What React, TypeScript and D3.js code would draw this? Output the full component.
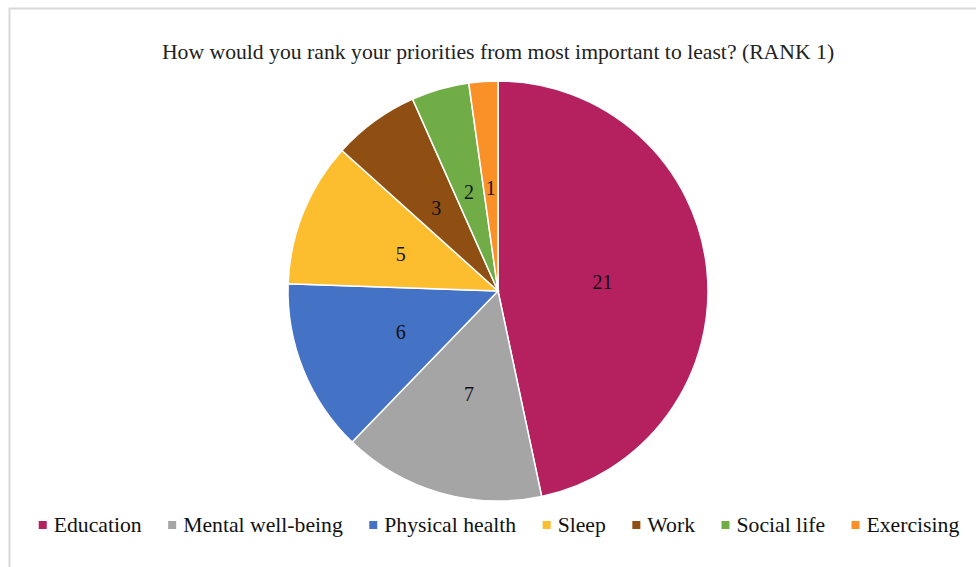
import React from "react";
import * as d3 from "d3";

const title = "How would you rank your priorities from most important to least? (RANK 1)";
const categories = ["Education", "Mental well-being", "Physical health", "Sleep", "Work", "Social life", "Exercising"];
const values = [21, 7, 6, 5, 3, 2, 1];
const colors = ["#B5205F", "#A5A5A5", "#4472C4", "#FCBE2E", "#8F4F12", "#70AD47", "#FA9028"];

const W = 977;
const H = 567;
const FONT = "Liberation Serif, Times New Roman, serif";

function measure(text: string, size: number) {
  const c = document.createElement("canvas").getContext("2d")!;
  c.font = `${size}px "Liberation Serif", serif`;
  return c.measureText(text).width;
}

export default function App() {
  const cx = 498;
  const cy = 291;
  const r = 210;
  const pie = d3.pie<number>().sort(null).value((d) => d);
  const arcs = pie(values);
  const arc = d3.arc<d3.PieArcDatum<number>>().innerRadius(0).outerRadius(r);
  const labelArc = d3.arc<d3.PieArcDatum<number>>().innerRadius(r * 0.5).outerRadius(r * 0.5);

  const legendSize = 21.7;
  const marker = 8;
  const markerGap = 7;
  const itemGap = 26.5;
  const widths = categories.map((c) => measure(c, legendSize));
  const total = widths.reduce((a, w) => a + marker + markerGap + w, 0) + itemGap * (categories.length - 1);
  let x0 = cx + 1 - total / 2;
  const legendItems = categories.map((c, i) => {
    const x = x0;
    x0 += marker + markerGap + widths[i] + itemGap;
    return { c, x, color: colors[i] };
  });
  const legendY = 525;
  const txt = { fontFamily: FONT } as React.CSSProperties;

  return (
    <svg width={W} height={H} style={{ position: "absolute", left: 0, top: 0, background: "#fff" }}>
      <rect x={0} y={0} width={W} height={H} fill="#fff" />
      <line x1={9.5} y1={8} x2={9.5} y2={H} stroke="#D9D9D9" strokeWidth={2} />
      <line x1={9} y1={8.5} x2={976} y2={8.5} stroke="#D9D9D9" strokeWidth={2} />
      <text x={cx} y={59} textAnchor="middle" style={txt} fontSize={21.7} fill="#222">
        {title}
      </text>
      <g transform={`translate(${cx},${cy})`}>
        {arcs.map((a, i) => (
          <path key={i} d={arc(a)!} fill={colors[i]} stroke="#fff" strokeWidth={1.5} />
        ))}
        {arcs.map((a, i) => {
          const [lx, ly] = labelArc.centroid(a);
          return (
            <text key={"l" + i} x={lx} y={ly + 2} textAnchor="middle" dominantBaseline="central" style={txt} fontSize={20} fill="#111">
              {values[i]}
            </text>
          );
        })}
      </g>
      {legendItems.map((it, i) => (
        <g key={"g" + i}>
          <rect x={it.x} y={legendY - marker / 2} width={marker} height={marker} fill={it.color} />
          <text x={it.x + marker + markerGap} y={legendY} dominantBaseline="central" style={txt} fontSize={legendSize} fill="#111">
            {it.c}
          </text>
        </g>
      ))}
    </svg>
  );
}
